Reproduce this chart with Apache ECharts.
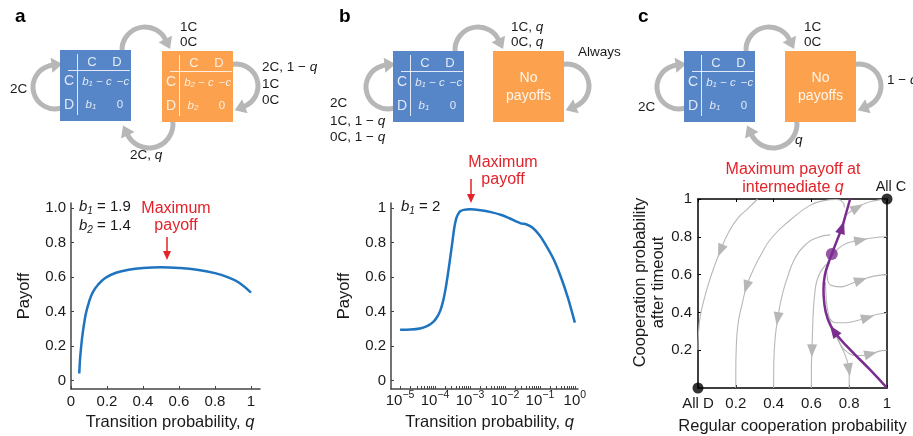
<!DOCTYPE html>
<html><head><meta charset="utf-8">
<script src="https://cdn.jsdelivr.net/npm/echarts@6/dist/echarts.min.js"></script>
<style>html,body{margin:0;padding:0;background:#fff}#c{width:913px;height:436px}</style>
</head><body><div id="c"></div>
<script>
// ---------- DATA ----------
// panel a : payoff vs transition probability q
const aQ      = [0.046,0.05,0.055,0.062,0.07,0.083,0.1,0.12,0.15,0.19,0.25,0.32,0.4,0.5,0.6,0.7,0.8,0.87,0.93,1.0];
const aPayoff = [0.04,0.12,0.18,0.25,0.31,0.39,0.455,0.51,0.555,0.595,0.625,0.643,0.653,0.657,0.653,0.643,0.623,0.6,0.57,0.51];
// panel b : payoff vs log10(q)
const bLogQ   = [-5,-4.7,-4.4,-4.2,-4.05,-3.95,-3.85,-3.77,-3.7,-3.63,-3.56,-3.5,-3.45,-3.4,-3.35,-3.28,-3.18,-3.0,-2.7,-2.4,-2.1,-1.86,-1.7,-1.55,-1.38,-1.2,-1.0,-0.8,-0.6,-0.4,-0.2,0];
const bPayoff = [0.294,0.295,0.303,0.318,0.34,0.365,0.405,0.46,0.53,0.62,0.72,0.81,0.885,0.935,0.962,0.982,0.99,0.993,0.988,0.977,0.96,0.94,0.925,0.912,0.905,0.885,0.84,0.775,0.70,0.6,0.48,0.335];
// panel c : flow lines (regular coop prob, coop prob after timeout), in flow order
const cS1 = [[0.315,1],[0.265,0.95],[0.212,0.9],[0.16,0.82],[0.12,0.73],[0.085,0.64],[0.055,0.55],[0.03,0.46],[0.012,0.38],[0.003,0.3],[0,0.2]];
const cS2 = [[0.775,0.955],[0.765,0.985],[0.735,0.997],[0.66,0.99],[0.59,0.965],[0.49,0.89],[0.39,0.795],[0.33,0.7],[0.29,0.62],[0.257,0.538],[0.235,0.45],[0.212,0.34],[0.202,0.2],[0.2,0.1],[0.2,0]];
const cS3 = [[0.70,0.81],[0.63,0.795],[0.56,0.75],[0.51,0.68],[0.475,0.59],[0.445,0.49],[0.422,0.37],[0.407,0.25],[0.401,0.12],[0.4,0]];
const cS4 = [[0.69,0.665],[0.655,0.625],[0.63,0.57],[0.618,0.5],[0.61,0.4],[0.606,0.3],[0.603,0.2],[0.6,0.1],[0.6,0]];
const cS5 = [[0.675,0.56],[0.678,0.48],[0.69,0.39],[0.715,0.31],[0.75,0.235],[0.782,0.165],[0.798,0.1],[0.8,0.05],[0.8,0]];
const cR1 = [[0.785,0.915],[0.81,0.935],[0.84,0.953],[0.88,0.975],[0.93,0.99],[1,1]];
const cR2 = [[0.712,0.70],[0.74,0.735],[0.785,0.765],[0.858,0.782],[0.93,0.795],[1,0.8]];
const cR3 = [[0.68,0.64],[0.685,0.58],[0.70,0.545],[0.752,0.535],[0.80,0.548],[0.858,0.57],[0.93,0.592],[1,0.6]];
const cR4 = [[0.672,0.43],[0.695,0.37],[0.735,0.345],[0.78,0.345],[0.823,0.352],[0.894,0.372],[0.95,0.39],[1,0.397]];
const cR5 = [[0.735,0.275],[0.76,0.22],[0.79,0.19],[0.83,0.172],[0.87,0.172],[0.911,0.18],[0.96,0.195],[1,0.2]];
const cPurple = [[1,0],[0.91,0.097],[0.805,0.203],[0.72,0.30],[0.685,0.37],[0.668,0.45],[0.664,0.52],[0.672,0.6],[0.69,0.66],[0.708,0.709],[0.735,0.78],[0.761,0.847],[0.785,0.93],[0.805,1.0]];
const cCorners = [[0,0],[1,1]];
const cFixed = [[0.708,0.709]];
// tick values / labels
const aXTicks = [0,0.2,0.4,0.6,0.8,1];      const aXLabels = ['0','0.2','0.4','0.6','0.8','1'];
const abYTicks = [0,0.2,0.4,0.6,0.8,1];     const aYLabels = ['0','0.2','0.4','0.6','0.8','1.0'];
const bYLabels = ['0','0.2','0.4','0.6','0.8','1'];
const bXMajor = [-5,-4,-3,-2,-1,0];         const bXExp = ['−5','−4','−3','−2','−1','0'];
const bMinorMult = [2,3,4,5,6,7,8,9];
const cXTicks = [0,0.2,0.4,0.6,0.8,1];      const cXLabels = ['All D','0.2','0.4','0.6','0.8','1'];
const cYTicks = [0.2,0.4,0.6,0.8,1];        const cYLabels = ['0.2','0.4','0.6','0.8','1'];

// ---------- STYLE ----------
const FONT = '"Liberation Sans", Arial, Helvetica, sans-serif';
const GRAY = '#b7b7b7', BLUE = '#5786c8', ORANGE = '#fca14d', RED = '#e2232a', PURPLE = '#7b2d8f';
const LINEBLUE = '#1f74c0', AXIS = '#444', TXT = '#1a1a1a';

const bAllTicks = [];
bXMajor.forEach(e => { bAllTicks.push(e); if (e < 0) bMinorMult.forEach(k => bAllTicks.push(e + Math.log10(k))); });

function lab(ticks, labels) { return v => { const i = ticks.findIndex(t => Math.abs(t - v) < 1e-6); return i < 0 ? '' : labels[i]; }; }

// ---------- DIAGRAMS (graphic) ----------
const els = [];
function arcArrow(cx, cy, r, a0, a1) {
  els.push({type:'arc', shape:{cx, cy, r, startAngle:a0, endAngle:a1, clockwise:true},
    style:{stroke:GRAY, lineWidth:5, fill:null}, z:1});
  const bx = cx + r*Math.cos(a1), by = cy + r*Math.sin(a1);
  const tx = -Math.sin(a1), ty = Math.cos(a1), nx = Math.cos(a1), ny = Math.sin(a1);
  const L = 10, W = 7.5;
  els.push({type:'polygon', shape:{points:[[bx+tx*L, by+ty*L],[bx+nx*W-tx*1, by+ny*W-ty*1],[bx-nx*W-tx*1, by-ny*W-ty*1]]},
    style:{fill:GRAY}, z:1});
}
const wt = 'rgba(255,255,255,0.82)';
const richBox = {
  i:{fontStyle:'italic', fontSize:11.5, fill:wt, fontFamily:FONT},
  s:{fontStyle:'italic', fontSize:8, fill:wt, fontFamily:FONT, verticalAlign:'bottom', lineHeight:8},
  n:{fontSize:11.5, fill:wt, fontFamily:FONT}
};
function txt(t, x, y, o) {
  els.push(Object.assign({type:'text', z:3, style:Object.assign({text:t, x, y, fill:TXT, fontSize:13.5, fontFamily:FONT,
    align:'left', verticalAlign:'middle', rich:{i:{fontStyle:'italic', fontSize:13.5, fontFamily:FONT, fill:TXT}}}, o || {})}));
}
function tableBox(bx, by, color, sub) {
  els.push({type:'rect', shape:{x:bx, y:by, width:71, height:71}, style:{fill:color}, z:2});
  els.push({type:'line', shape:{x1:bx+17.5, y1:by+4, x2:bx+17.5, y2:by+65}, style:{stroke:wt, lineWidth:1}, z:3});
  els.push({type:'line', shape:{x1:bx+8, y1:by+20.5, x2:bx+70, y2:by+20.5}, style:{stroke:wt, lineWidth:1}, z:3});
  const c = (t, x, y, fs) => txt(t, bx+x, by+y, {fill:wt, fontSize:fs, align:'center', rich:richBox});
  c('C', 32, 12.5, 13); c('D', 57, 12.5, 13);
  c('C', 9, 31.5, 14); c('D', 9, 55, 14);
  c('{i|b}{s|'+sub+'}{n| − }{i|c}', 37, 31.5, 11.5);
  c('{n|−}{i|c}', 63, 31.5, 11.5);
  c('{i|b}{s|'+sub+'}', 31, 55, 11.5);
  c('0', 60, 55, 11.5);
}
function noPayBox(bx, by) {
  els.push({type:'rect', shape:{x:bx, y:by, width:71, height:71}, style:{fill:ORANGE}, z:2});
  txt('No', bx+35.5, by+27, {fill:'rgba(255,255,255,0.9)', fontSize:14, align:'center'});
  txt('payoffs', bx+35.5, by+45, {fill:'rgba(255,255,255,0.9)', fontSize:14, align:'center'});
}
// panel a
tableBox(60, 50, BLUE, '1'); tableBox(162, 51, ORANGE, '2');
arcArrow(55, 87, 22, 1.3, 4.6);
arcArrow(145, 50, 23, Math.PI-0.1, 2*Math.PI-0.45);
arcArrow(236, 86, 22, -1.8, 1.2);
arcArrow(149, 124, 24, -0.15, Math.PI-0.45);
txt('2C', 10, 89); txt('1C', 180, 27); txt('0C', 180, 42);
txt('2C, 1 − {i|q}', 262, 67); txt('1C', 262, 84); txt('0C', 262, 100); txt('2C, {i|q}', 130, 155);
// panel b
tableBox(393, 51, BLUE, '1'); noPayBox(493, 51);
arcArrow(388, 87, 22, 1.3, 4.6);
arcArrow(478, 50, 23, Math.PI-0.1, 2*Math.PI-0.45);
arcArrow(567, 86, 22, -1.8, 1.2);
txt('1C, {i|q}', 511, 27); txt('0C, {i|q}', 511, 42); txt('Always', 578, 52);
txt('2C', 330, 103); txt('1C, 1 − {i|q}', 330, 121); txt('0C, 1 − {i|q}', 330, 137);
// panel c
tableBox(684, 51, BLUE, '1'); noPayBox(785, 51);
arcArrow(679, 87, 22, 1.3, 4.6);
arcArrow(769, 50, 23, Math.PI-0.1, 2*Math.PI-0.45);
arcArrow(859, 86, 22, -1.8, 1.2);
arcArrow(773, 124, 24, -0.15, Math.PI-0.45);
txt('1C', 804, 27); txt('0C', 804, 42); txt('1 − {i|q}', 887, 80); txt('2C', 638, 107); txt('{i|q}', 795, 140);
// panel letters
txt('a', 15, 17, {fontSize:19, fontWeight:'bold', fill:'#000'});
txt('b', 339, 17, {fontSize:19, fontWeight:'bold', fill:'#000'});
txt('c', 638, 17, {fontSize:19, fontWeight:'bold', fill:'#000'});
// annotations
const richAnn = {i:{fontStyle:'italic', fontSize:15, fontFamily:FONT, fill:TXT},
  s:{fontStyle:'italic', fontSize:10, fontFamily:FONT, fill:TXT, verticalAlign:'bottom', lineHeight:9},
  n:{fontSize:15, fontFamily:FONT, fill:TXT, lineHeight:18}};
txt('{i|b}{s|1}{n| = 1.9}', 79, 207, {rich:richAnn});
txt('{i|b}{s|2}{n| = 1.4}', 79, 226, {rich:richAnn});
txt('{i|b}{s|1}{n| = 2}', 401, 207, {rich:richAnn});
function redArrow(x, y0, y1) {
  els.push({type:'line', shape:{x1:x, y1:y0, x2:x, y2:y1-6}, style:{stroke:RED, lineWidth:1.5}, z:3});
  els.push({type:'polygon', shape:{points:[[x, y1],[x-4, y1-9],[x+4, y1-9]]}, style:{fill:RED}, z:3});
}
txt('Maximum', 176, 209, {fill:RED, fontSize:16, align:'center'});
txt('payoff', 176, 226, {fill:RED, fontSize:16, align:'center'});
redArrow(167, 237, 260);
txt('Maximum', 503, 163, {fill:RED, fontSize:16, align:'center'});
txt('payoff', 503, 180, {fill:RED, fontSize:16, align:'center'});
redArrow(471, 179, 203);
txt('Maximum payoff at', 793, 170, {fill:RED, fontSize:16, align:'center'});
txt('intermediate {r|q}', 793, 188, {fill:RED, fontSize:16, align:'center',
  rich:{r:{fontStyle:'italic', fontSize:16, fill:RED, fontFamily:FONT}}});
txt('All C', 891, 187, {fontSize:14.5, align:'center'});

// ---------- CHART ----------
const nameStyle = {fontSize:16.5, color:TXT, fontFamily:FONT, rich:{i:{fontStyle:'italic', fontSize:16.5, color:TXT, fontFamily:FONT}}};
const axLine = {show:true, onZero:false, lineStyle:{color:AXIS, width:1.5}};
const blackLine = {show:true, onZero:false, lineStyle:{color:'#000', width:1.5}};
const tickIn = (vals, color) => ({show:true, inside:true, length:3, lineStyle:{color:color || AXIS, width:1}, customValues:vals});
const labStyle = {fontSize:15, color:TXT, fontFamily:FONT};

function arrowRender(color, L, W) {
  return function (params, api) {
    const p = api.coord([api.value(0), api.value(1)]);
    const a = api.coord([api.value(2), api.value(3)]);
    const b = api.coord([api.value(4), api.value(5)]);
    let dx = b[0]-a[0], dy = b[1]-a[1]; const n = Math.hypot(dx, dy) || 1; dx /= n; dy /= n;
    const tip = [p[0]+dx*L*0.55, p[1]+dy*L*0.55];
    const bx = p[0]-dx*L*0.45, by = p[1]-dy*L*0.45;
    return {type:'polygon', shape:{points:[tip,[bx-dy*W/2, by+dx*W/2],[bx+dy*W/2, by-dx*W/2]]}, style:{fill:color}};
  };
}
function arrowData(specs) { return specs.map(([l, i]) => [l[i][0], l[i][1], l[i-1][0], l[i-1][1], l[i+1][0], l[i+1][1]]); }
const grayArrows = arrowData([[cS1,4],[cS2,9],[cS3,6],[cS4,6],[cS5,6],[cR1,2],[cR2,3],[cR3,5],[cR4,5],[cR5,5]]);
const purpleArrows = arrowData([[cPurple,3],[cPurple,11]]);

const streams = [cS1, cS2, cS3, cS4, cS5, cR1, cR2, cR3, cR4, cR5];

const option = {
  animation:false,
  textStyle:{fontFamily:FONT},
  grid:[
    {left:71, top:203, width:189, height:186},
    {left:391, top:203, width:187, height:186},
    {left:698, top:199, width:189, height:189}
  ],
  xAxis:[
    {gridIndex:0, type:'value', min:0, max:1.05, axisLine:axLine, axisTick:tickIn(aXTicks), splitLine:{show:false},
      axisLabel:Object.assign({customValues:aXTicks, formatter:lab(aXTicks, aXLabels), margin:5}, labStyle),
      name:'Transition probability, {i|q}', nameLocation:'middle', nameGap:25, nameTextStyle:Object.assign({padding:[0,0,0,9]}, nameStyle)},
    {gridIndex:1, type:'value', min:-5.26, max:0.09, axisLine:axLine, axisTick:tickIn(bAllTicks), splitLine:{show:false},
      axisLabel:{customValues:bXMajor, margin:1, formatter:v => { const i = bXMajor.findIndex(t => Math.abs(t - v) < 1e-6); return i < 0 ? '' : '{n|10}{s|' + bXExp[i] + '}'; },
        rich:{n:{fontSize:15, lineHeight:22, color:TXT, fontFamily:FONT}, s:{fontSize:10.5, lineHeight:10, verticalAlign:'top', color:TXT, fontFamily:FONT}}},
      name:'Transition probability, {i|q}', nameLocation:'middle', nameGap:25, nameTextStyle:Object.assign({padding:[0,0,0,10]}, nameStyle)},
    {gridIndex:2, type:'value', min:0, max:1, axisLine:blackLine, axisTick:tickIn(cXTicks, '#000'), splitLine:{show:false},
      axisLabel:Object.assign({customValues:cXTicks, formatter:lab(cXTicks, cXLabels), margin:8}, labStyle),
      name:'Regular cooperation probability', nameLocation:'middle', nameGap:30, nameTextStyle:nameStyle},
    {gridIndex:2, type:'value', position:'top', min:0, max:1, axisLine:blackLine, axisTick:tickIn(cXTicks, '#000'), splitLine:{show:false}, axisLabel:{show:false}}
  ],
  yAxis:[
    {gridIndex:0, type:'value', min:-0.05, max:1.03, axisLine:axLine, axisTick:tickIn(abYTicks), splitLine:{show:false},
      axisLabel:Object.assign({customValues:abYTicks, formatter:lab(abYTicks, aYLabels), margin:5}, labStyle),
      name:'Payoff', nameLocation:'middle', nameGap:38, nameTextStyle:nameStyle},
    {gridIndex:1, type:'value', min:-0.05, max:1.03, axisLine:axLine, axisTick:tickIn(abYTicks), splitLine:{show:false},
      axisLabel:Object.assign({customValues:abYTicks, formatter:lab(abYTicks, bYLabels), margin:5}, labStyle),
      name:'Payoff', nameLocation:'middle', nameGap:38, nameTextStyle:nameStyle},
    {gridIndex:2, type:'value', min:0, max:1, axisLine:blackLine, axisTick:tickIn(cYTicks, '#000'), splitLine:{show:false},
      axisLabel:Object.assign({customValues:cYTicks, formatter:lab(cYTicks, cYLabels), margin:6}, labStyle),
      name:'Cooperation probability\nafter timeout', nameLocation:'middle', nameGap:31,
      nameTextStyle:Object.assign({lineHeight:18, padding:[0,0,0,22]}, nameStyle)},
    {gridIndex:2, type:'value', position:'right', min:0, max:1, axisLine:blackLine, axisTick:tickIn(cYTicks, '#000'), splitLine:{show:false}, axisLabel:{show:false}}
  ],
  graphic:{elements:els},
  series:[
    {type:'line', xAxisIndex:0, yAxisIndex:0, data:aQ.map((q, i) => [q, aPayoff[i]]), smooth:0.4, showSymbol:false,
      lineStyle:{color:LINEBLUE, width:2.5}, z:5},
    {type:'line', xAxisIndex:1, yAxisIndex:1, data:bLogQ.map((q, i) => [q, bPayoff[i]]), smooth:0.3, showSymbol:false,
      lineStyle:{color:LINEBLUE, width:2.5}, z:5},
    ...streams.map(s => ({type:'line', xAxisIndex:2, yAxisIndex:2, data:s, smooth:0.5, showSymbol:false, clip:false,
      lineStyle:{color:GRAY, width:1.1}, z:3})),
    {type:'line', xAxisIndex:2, yAxisIndex:2, data:cPurple, smooth:0.5, showSymbol:false, clip:false,
      lineStyle:{color:PURPLE, width:2.5}, z:6},
    {type:'custom', xAxisIndex:2, yAxisIndex:2, data:grayArrows, encode:{x:0, y:1}, renderItem:arrowRender(GRAY, 13, 10), clip:false, z:4},
    {type:'custom', xAxisIndex:2, yAxisIndex:2, data:purpleArrows, encode:{x:0, y:1}, renderItem:arrowRender(PURPLE, 13, 10), clip:false, z:7},
    {type:'scatter', xAxisIndex:2, yAxisIndex:2, data:cFixed, symbolSize:12, itemStyle:{color:PURPLE}, z:8},
    {type:'scatter', xAxisIndex:2, yAxisIndex:2, data:cCorners, symbolSize:11, itemStyle:{color:'#000'}, clip:false, z:8}
  ]
};
const chart = echarts.init(document.getElementById('c'), null, {renderer:'canvas'});
chart.setOption(option);
</script></body></html>
